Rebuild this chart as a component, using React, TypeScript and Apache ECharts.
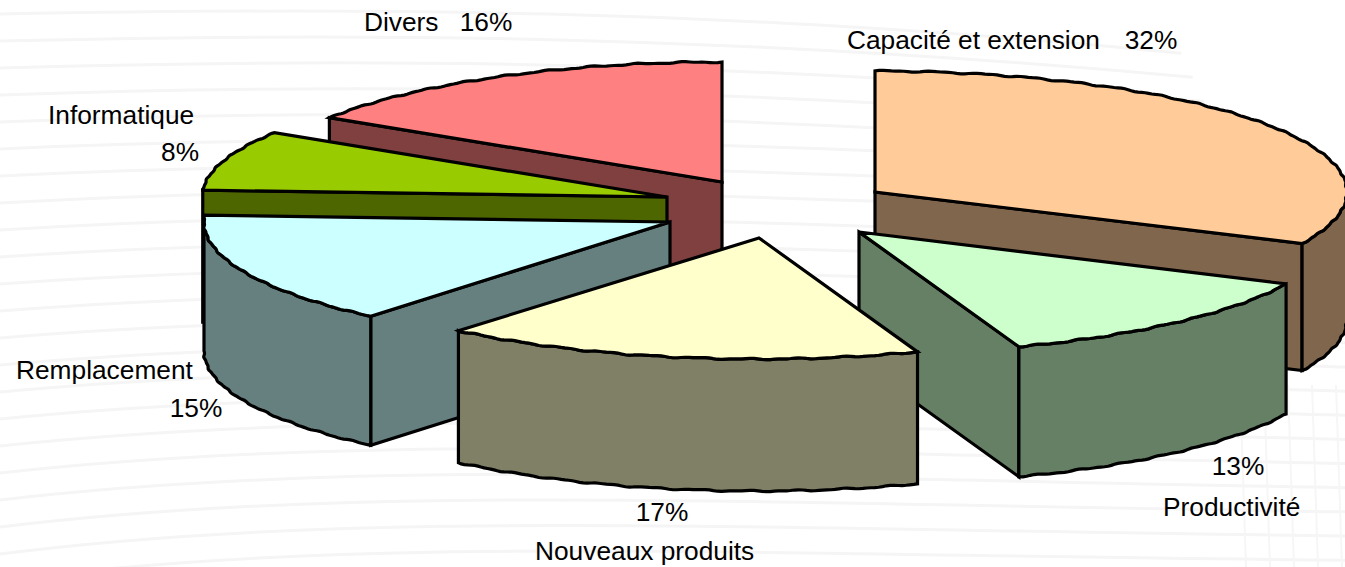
import React, { useEffect, useRef } from "react";
import * as echarts from "echarts";

// Clockwise from twelve o'clock
const categories = ["Capacité et extension", "Productivité", "Nouveaux produits", "Remplacement", "Informatique", "Divers"];
const shares = [32, 12.5, 16.6, 14.8, 8.1, 16];
const topColors = ["#FFCC99", "#CCFFCC", "#FFFFCC", "#CCFFFF", "#99CC00", "#FF8080"];
const sideColors = ["#80664D", "#668066", "#808066", "#668080", "#4D6600", "#804040"];
const paintOrder = [0, 5, 4, 3, 1, 2];

// Layout of the exploded slices: apex of each top face, radii and thickness
const apexes = [[875, 192], [859, 232], [759, 238], [670, 222], [667, 197], [722, 182]];
const radiiX = [472, 472, 468, 466, 465, 465];
const radiiY = [121, 122, 121, 123, 120, 120];
const depths = [127, 130, 132, 129, 132, 128];
const labelPlaces: any[] = [
  { name: [847, 40, "left"], pct: [1151, 40, "center"] },
  { name: [1163, 507, "left"], pct: [1238, 466, "center"] },
  { name: [535, 551, "left"], pct: [662, 512, "center"] },
  { name: [16, 370, "left"], pct: [196, 408, "center"] },
  { name: [48, 115, "left"], pct: [180, 152, "center"] },
  { name: [364, 22, "left"], pct: [486, 22, "center"] },
];

const FONT = '26.3px "Liberation Sans", Arial, sans-serif';
const DEG = Math.PI / 180;

function angleBounds() {
  const total = shares.reduce((a, b) => a + b, 0);
  let run = 0;
  return shares.map((v) => {
    const a0 = (run / total) * 360;
    run += v;
    return [a0, (run / total) * 360];
  });
}
const bounds = angleBounds();

function rim(i: number, deg: number, rough: boolean) {
  const t = deg * DEG;
  const wob = rough ? 0.55 * Math.sin(t * 61) + 0.3 * Math.sin(t * 127) : 0;
  return [
    apexes[i][0] + (radiiX[i] + wob) * Math.sin(t),
    apexes[i][1] - (radiiY[i] + wob) * Math.cos(t),
  ];
}
function arc(i: number, a0: number, a1: number) {
  const pts: number[][] = [rim(i, a0, false)];
  const n = Math.max(2, Math.ceil((a1 - a0) / 0.5));
  for (let k = 1; k < n; k++) pts.push(rim(i, a0 + ((a1 - a0) * k) / n, true));
  pts.push(rim(i, a1, false));
  return pts;
}
const down = (p: number[], d: number) => [p[0], p[1] + d];

function renderSlice(_params: any, api: any) {
  const i = api.value(0);
  const [a0, a1] = bounds[i];
  const d = depths[i];
  const apex = apexes[i];
  const line = { stroke: "#000", lineWidth: 3.2, lineJoin: "miter" };
  const children: any[] = [];
  const side = (points: number[][], fill: string) =>
    children.push({ type: "polygon", shape: { points }, style: { ...line, fill } });

  // radial cut faces that look towards the viewer
  if (Math.sin(a0 * DEG) < -0.001) {
    const p = rim(i, a0, false);
    side([apex, p, down(p, d), down(apex, d)], sideColors[i]);
  }
  if (Math.sin(a1 * DEG) > 0.001) {
    const p = rim(i, a1, false);
    side([apex, p, down(p, d), down(apex, d)], sideColors[i]);
  }
  // curved wall, front half of the rim only
  const f0 = Math.max(a0, 90);
  const f1 = Math.min(a1, 270);
  if (f1 > f0) {
    const top = arc(i, f0, f1);
    const bottom = arc(i, f0, f1).map((p) => down(p, d)).reverse();
    side([...top, ...bottom], sideColors[i]);
  }
  // top face
  side([apex, ...arc(i, a0, a1)], topColors[i]);
  return { type: "group", children };
}

function backgroundLines() {
  const out: any[] = [];
  const stroke = { stroke: "#f5f5f5", lineWidth: 3, fill: "none" };
  for (let y = 8; y < 600; y += 27) {
    const x2 = y < 125 ? 1178 + y * 0.42 : 1345;
    out.push({
      type: "bezierCurve",
      z: 0,
      silent: true,
      shape: {
        x1: 0, y1: y + 6,
        cpx1: 350, cpy1: y - (y / 567) * 40,
        cpx2: 720, cpy2: y - (y / 567) * 20,
        x2, y2: y + 46 - (y / 567) * 60,
      },
      style: stroke,
    });
  }
  for (let x = 1240; x < 1345; x += 24) {
    out.push({
      type: "line", z: 0, silent: true,
      shape: { x1: x, y1: 385, x2: x + 6, y2: 567 },
      style: { stroke: "#f6f6f6", lineWidth: 2 },
    });
  }
  return out;
}

function textLabels() {
  const out: any[] = [];
  categories.forEach((name, i) => {
    const place = labelPlaces[i];
    const mk = (text: string, spot: any[]) => ({
      type: "text", x: spot[0], y: spot[1], z: 10, silent: true,
      style: { text, font: FONT, fill: "#000", textAlign: spot[2], textVerticalAlign: "middle" },
    });
    out.push(mk(name, place.name));
    out.push(mk(`${Math.round(shares[i])}%`, place.pct));
  });
  return out;
}

export default function App() {
  const ref = useRef<HTMLDivElement>(null);
  useEffect(() => {
    document.body.style.margin = "0";
    const chart = echarts.init(ref.current!, null, { renderer: "svg" });
    chart.setOption({
      animation: false,
      backgroundColor: "#ffffff",
      tooltip: { show: false },
      graphic: { elements: [...backgroundLines(), ...textLabels()] },
      series: [
        {
          type: "custom",
          coordinateSystem: "none",
          silent: true,
          z: 5,
          clip: false,
          renderItem: renderSlice,
          encode: {},
          data: paintOrder.map((i) => ({ name: categories[i], value: [i, shares[i]] })),
        },
      ],
    });
    return () => chart.dispose();
  }, []);
  return <div ref={ref} style={{ width: 1345, height: 567, overflow: "hidden" }} />;
}
